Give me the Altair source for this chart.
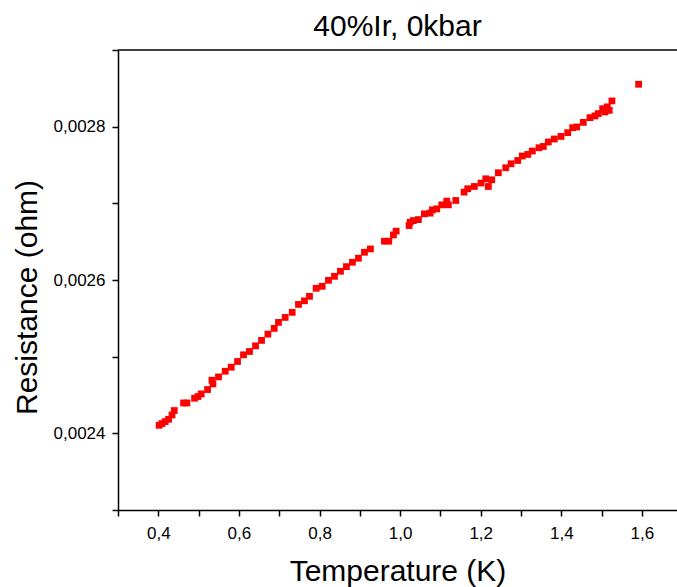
import altair as alt
import pandas as pd

temperature = [
    0.402, 0.409, 0.417, 0.4255, 0.434, 0.4396, 0.4627, 0.4711, 0.490, 0.4984,
    0.5065, 0.5222, 0.5331, 0.5356, 0.5494, 0.5661, 0.5809, 0.5966, 0.6114, 0.6263,
    0.6412, 0.6561, 0.6719, 0.6876, 0.6982, 0.7148, 0.7322, 0.7478, 0.7627, 0.7751,
    0.7917, 0.8066, 0.8222, 0.8371, 0.852, 0.8668, 0.8817, 0.8966, 0.9115, 0.9263,
    0.9611, 0.972, 0.9834, 0.9901, 1.0223, 1.0248, 1.033, 1.0454, 1.0602, 1.0744,
    1.0801, 1.091, 1.1034, 1.1158, 1.1197, 1.1381, 1.1587, 1.1678, 1.1842, 1.2008,
    1.2125, 1.2273, 1.2189, 1.2437, 1.2621, 1.2752, 1.2918, 1.3032, 1.3166, 1.328,
    1.3446, 1.3553, 1.3677, 1.3826, 1.3992, 1.4158, 1.4282, 1.4381, 1.4545, 1.4711,
    1.4835, 1.4917, 1.5026, 1.5083, 1.514, 1.5189, 1.5256, 1.5918,
]
resistance = [
    0.0024105, 0.0024127, 0.0024153, 0.0024183, 0.0024239, 0.0024297, 0.0024396, 0.0024396, 0.0024458, 0.0024480,
    0.0024514, 0.0024571, 0.0024693, 0.0024645, 0.0024736, 0.0024810, 0.0024863, 0.0024937, 0.0025024, 0.0025068,
    0.0025141, 0.0025212, 0.0025294, 0.0025369, 0.0025447, 0.0025512, 0.0025578, 0.0025682, 0.0025729, 0.0025787,
    0.0025892, 0.0025918, 0.0025996, 0.0026048, 0.0026114, 0.0026174, 0.0026231, 0.0026284, 0.0026362, 0.0026405,
    0.0026506, 0.0026506, 0.0026588, 0.0026637, 0.0026710, 0.0026754, 0.0026775, 0.0026788, 0.0026863, 0.0026872,
    0.0026915, 0.0026928, 0.0026980, 0.0027029, 0.0026980, 0.0027037, 0.0027146, 0.0027190, 0.0027220, 0.0027264,
    0.0027320, 0.0027307, 0.0027220, 0.0027399, 0.0027464, 0.0027516, 0.0027559, 0.0027617, 0.0027638, 0.0027682,
    0.0027725, 0.0027742, 0.0027800, 0.0027839, 0.0027873, 0.0027922, 0.0027987, 0.0027996, 0.0028056, 0.0028118,
    0.0028140, 0.0028170, 0.0028235, 0.0028192, 0.0028258, 0.0028213, 0.0028336, 0.0028553,
]

x_ticks = [0.3, 0.4, 0.5, 0.6, 0.7, 0.8, 0.9, 1.0, 1.1, 1.2, 1.3, 1.4, 1.5, 1.6]
y_ticks = [0.0023, 0.0024, 0.0025, 0.0026, 0.0027, 0.0028, 0.0029]

chart_title = "40%Ir, 0kbar"
x_title = "Temperature (K)"
y_title = "Resistance (ohm)"

df = pd.DataFrame({"T": temperature, "R": resistance})

W, H = 559, 460
FONT = "Liberation Sans"

points = alt.Chart(df).mark_square(size=46, color="#ff0000", opacity=1).encode(
    x=alt.X(
        "T:Q",
        scale=alt.Scale(domain=[0.3, 1.687], nice=False, zero=False),
        axis=alt.Axis(
            values=x_ticks,
            labelExpr="(round(datum.value*10) % 2 == 0) ? replace(format(datum.value, '.1f'), '.', ',') : ''",
            title=x_title,
            titleX=W / 2,
            titleY=70,
            titleBaseline="alphabetic",
            titleFontSize=30,
            labelPadding=9,
        ),
    ),
    y=alt.Y(
        "R:Q",
        scale=alt.Scale(domain=[0.0023, 0.0029], nice=False, zero=False),
        axis=alt.Axis(
            values=y_ticks,
            labelExpr="(round(datum.value*10000) % 2 == 0) ? replace(format(datum.value, '.4f'), '.', ',') : ''",
            title=y_title,
            titleAngle=270,
            titleX=-82,
            titleY=247,
            titleAlign="center",
            titleBaseline="alphabetic",
            titleFontSize=30,
            labelPadding=7,
        ),
    ),
)

top_line = alt.Chart(pd.DataFrame({"a": [0]})).mark_rule(color="black", strokeWidth=1.5).encode(
    x=alt.value(0), x2=alt.value(W), y=alt.value(0)
)

chart = (
    alt.layer(points, top_line)
    .properties(
        width=W,
        height=H,
        title=alt.TitleParams(chart_title, fontSize=30, font=FONT, fontWeight="normal", color="black", anchor="middle", offset=7),
        autosize=alt.AutoSizeParams(type="none"),
        padding={"left": 118, "top": 50, "right": 0, "bottom": 77},
    )
    .configure_view(stroke=None)
    .configure_axis(
        grid=False,
        domainColor="black",
        domainWidth=1.5,
        tickColor="black",
        tickWidth=1.5,
        tickSize=6,
        labelFont=FONT,
        labelFontSize=17,
        labelColor="black",
        titleFont=FONT,
        titleFontWeight="normal",
        titleColor="black",
    )
)

chart.save("out.html", embed_options={"renderer": "svg", "actions": False})
